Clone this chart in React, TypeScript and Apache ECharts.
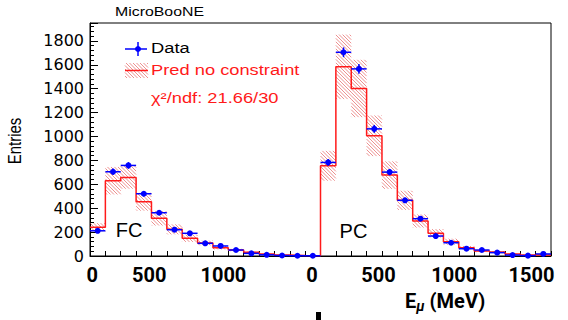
import React, { useEffect, useRef } from "react";
import * as echarts from "echarts";

// Bin index: FC bins 0..14 (0-1500 MeV, 100 MeV each), PC bins 15..29
const FC_DATA = [211, 705, 758, 521, 362, 220, 190, 106, 84, 50, 22, 10, 4, 2, 2];
const FC_DATA_ERR = [15, 27, 28, 23, 19, 15, 14, 10, 9, 7, 5, 3, 2, 1, 1];
const FC_PRED = [240, 630, 658, 454, 315, 223, 148, 109, 69, 50, 31, 17, 8, 4, 2];
const FC_PRED_ERR = [35, 115, 95, 75, 60, 42, 30, 20, 14, 10, 7, 4, 3, 2, 1];

const PC_DATA = [783, 1705, 1566, 1064, 702, 466, 312, 167, 111, 61, 50, 28, 8, 3, 17];
const PC_DATA_ERR = [28, 41, 40, 33, 26, 22, 18, 13, 11, 8, 7, 5, 3, 2, 4];
const PC_PRED = [755, 1583, 1402, 1006, 677, 466, 293, 190, 120, 69, 42, 33, 17, 8, 8];
const PC_PRED_ERR = [125, 270, 240, 170, 115, 80, 55, 35, 25, 15, 10, 8, 5, 3, 3];

const X_LABEL_TEXT = ["0", "500", "1000", "0", "500", "1000", "1500"];
const X_LABEL_POS = [0.15, 3.86, 8.68, 14.45, 18.77, 23.7, 28.73];

const Y_MAX = 1950;
const N_BINS = 30;

const HATCH_COLOR = "rgba(225,70,70,0.6)";
const RED = "#ff1a1a";
const BLUE = "#0000ff";

function hatchLines(x0: number, y0: number, x1: number, y1: number, sp: number) {
  const out: any[] = [];
  const cMin = y0 - x1;
  const cMax = y1 - x0;
  for (let c = Math.ceil(cMin / sp) * sp; c <= cMax; c += sp) {
    const lo = Math.max(x0, y0 - c);
    const hi = Math.min(x1, y1 - c);
    if (hi > lo) {
      out.push({
        type: "line",
        shape: { x1: lo, y1: lo + c, x2: hi, y2: hi + c },
        style: { stroke: HATCH_COLOR, lineWidth: 1 },
        silent: true,
      });
    }
  }
  return out;
}

export default function App() {
  const ref = useRef<HTMLDivElement>(null);
  useEffect(() => {
    if (!ref.current) return;
    const chart = echarts.init(ref.current, undefined, { renderer: "svg" });

    const predBand: number[][] = [];
    const dataPts: number[][] = [];
    FC_PRED.forEach((v, i) => predBand.push([i, v, FC_PRED_ERR[i]]));
    PC_PRED.forEach((v, i) => predBand.push([15 + i, v, PC_PRED_ERR[i]]));
    FC_DATA.forEach((v, i) => dataPts.push([i, v, FC_DATA_ERR[i]]));
    PC_DATA.forEach((v, i) => dataPts.push([15 + i, v, PC_DATA_ERR[i]]));

    const step: number[][] = [];
    FC_PRED.forEach((v, i) => step.push([i, v]));
    step.push([15, FC_PRED[FC_PRED.length - 1]]);
    PC_PRED.forEach((v, i) => step.push([15 + i, v]));
    step.push([30, PC_PRED[PC_PRED.length - 1]]);

    const textFont = "Liberation Sans, Arial, sans-serif";

    chart.setOption({
      animation: false,
      grid: {
        left: 90,
        right: 17,
        top: 23,
        bottom: 64,
        show: true,
        borderColor: "#000",
        borderWidth: 1,
        backgroundColor: "transparent",
      },
      xAxis: [
        {
          type: "value",
          min: 0,
          max: N_BINS,
          interval: 1,
          axisLine: { show: true, lineStyle: { color: "#000", width: 1 } },
          axisTick: { show: true, inside: true, length: 5, lineStyle: { color: "#000" } },
          axisLabel: { show: false },
          splitLine: { show: false },
        },
        {
          type: "value",
          min: 0,
          max: N_BINS,
          position: "bottom",
          axisLine: { show: false },
          axisTick: { show: false },
          splitLine: { show: false },
          axisLabel: {
            show: true,
            customValues: X_LABEL_POS,
            margin: 9,
            fontFamily: "Roboto, sans-serif",
            fontWeight: "bold",
            fontSize: 20,
            color: "#000",
            formatter: (v: number) => {
              let best = 0;
              let bd = Infinity;
              X_LABEL_POS.forEach((p, k) => {
                const d = Math.abs(p - v);
                if (d < bd) {
                  bd = d;
                  best = k;
                }
              });
              return X_LABEL_TEXT[best];
            },
          },
        },
      ],
      yAxis: {
        type: "value",
        min: 0,
        max: Y_MAX,
        interval: 200,
        axisLine: { show: true, lineStyle: { color: "#000", width: 1 } },
        axisTick: { show: true, inside: true, length: 8, lineStyle: { color: "#000" } },
        minorTick: { show: true, splitNumber: 5, length: 4, lineStyle: { color: "#000" } },
        splitLine: { show: false },
        axisLabel: {
          showMaxLabel: false,
          margin: 6,
          fontFamily: "DejaVu Sans, sans-serif",
          fontSize: 16,
          color: "#000",
          formatter: (v: number) => String(v),
        },
      },
      series: [
        {
          type: "custom",
          name: "band",
          coordinateSystem: "cartesian2d",
          xAxisIndex: 0,
          yAxisIndex: 0,
          data: predBand,
          encode: { x: 0, y: 1 },
          renderItem: (params: any, api: any) => {
            const i = api.value(0);
            const v = api.value(1);
            const e = api.value(2);
            const p0 = api.coord([i, v + e]);
            const p1 = api.coord([i + 1, Math.max(0, v - e)]);
            return {
              type: "group",
              children: hatchLines(p0[0], p0[1], p1[0], p1[1], 3.5),
            };
          },
          z: 1,
        },
        {
          type: "line",
          name: "pred",
          data: step,
          step: "end",
          showSymbol: false,
          symbol: "none",
          lineStyle: { color: RED, width: 1.5 },
          z: 2,
        },
        {
          type: "custom",
          name: "data",
          coordinateSystem: "cartesian2d",
          xAxisIndex: 0,
          yAxisIndex: 0,
          data: dataPts,
          encode: { x: 0, y: 1 },
          renderItem: (params: any, api: any) => {
            const i = api.value(0);
            const v = api.value(1);
            const e = api.value(2);
            const l = api.coord([i, v]);
            const r = api.coord([i + 1, v]);
            const c = api.coord([i + 0.5, v]);
            const t = api.coord([i + 0.5, v + e]);
            const b = api.coord([i + 0.5, Math.max(0, v - e)]);
            const st = { stroke: BLUE, lineWidth: 1.5 };
            return {
              type: "group",
              children: [
                { type: "line", shape: { x1: l[0], y1: l[1], x2: r[0], y2: r[1] }, style: st },
                { type: "line", shape: { x1: t[0], y1: t[1], x2: b[0], y2: b[1] }, style: st },
                { type: "circle", shape: { cx: c[0], cy: c[1], r: 3 }, style: { fill: BLUE } },
              ],
            };
          },
          z: 3,
        },
      ],
      graphic: [
        {
          type: "text",
          x: 115,
          y: 12,
          scaleX: 1.22,
          style: {
            text: "MicroBooNE",
            fontFamily: textFont,
            fontSize: 13,
            fill: "#000",
            align: "left",
            verticalAlign: "middle",
          },
        },
        {
          type: "text",
          x: 15,
          y: 141,
          rotation: Math.PI / 2,
          scaleY: 1.2,
          style: {
            text: "Entries",
            fontFamily: textFont,
            fontSize: 15,
            fill: "#000",
            align: "center",
            verticalAlign: "middle",
          },
        },
        // Legend: data marker
        { type: "line", shape: { x1: 125, y1: 49, x2: 147, y2: 49 }, style: { stroke: BLUE, lineWidth: 1.5 } },
        { type: "line", shape: { x1: 138, y1: 42, x2: 138, y2: 56 }, style: { stroke: BLUE, lineWidth: 1.5 } },
        { type: "circle", shape: { cx: 138, cy: 49, r: 3 }, style: { fill: BLUE } },
        {
          type: "text",
          x: 151,
          y: 48.5,
          scaleX: 1.22,
          style: {
            text: "Data",
            fontFamily: textFont,
            fontSize: 15,
            fill: "#000",
            align: "left",
            verticalAlign: "middle",
          },
        },
        // Legend: pred hatch box
        { type: "group", children: hatchLines(125, 63, 148, 78, 3.5) },
        { type: "line", shape: { x1: 125, y1: 70.5, x2: 148, y2: 70.5 }, style: { stroke: RED, lineWidth: 1.5 } },
        {
          type: "text",
          x: 151,
          y: 70.5,
          scaleX: 1.22,
          style: {
            text: "Pred no constraint",
            fontFamily: textFont,
            fontSize: 15,
            fill: RED,
            align: "left",
            verticalAlign: "middle",
          },
        },
        {
          type: "text",
          x: 151,
          y: 98,
          scaleX: 1.22,
          style: {
            text: "χ²/ndf: 21.66/30",
            fontFamily: textFont,
            fontSize: 15,
            fill: RED,
            align: "left",
            verticalAlign: "middle",
          },
        },
        {
          type: "text",
          x: 129,
          y: 230,
          style: {
            text: "FC",
            fontFamily: textFont,
            fontSize: 20,
            fill: "#000",
            align: "center",
            verticalAlign: "middle",
          },
        },
        {
          type: "text",
          x: 353.5,
          y: 230.5,
          style: {
            text: "PC",
            fontFamily: textFont,
            fontSize: 20,
            fill: "#000",
            align: "center",
            verticalAlign: "middle",
          },
        },
        {
          type: "text",
          x: 405,
          y: 301,
          style: {
            text: "{e|E}{m|μ}{u| (MeV)}",
            align: "left",
            verticalAlign: "middle",
            rich: {
              e: { fontFamily: "Roboto, sans-serif", fontWeight: "bold", fontSize: 20, fill: "#000" },
              m: {
                fontFamily: "Roboto, sans-serif",
                fontWeight: "bold",
                fontStyle: "italic",
                fontSize: 14,
                fill: "#000",
                padding: [10, 0, 0, 0],
              },
              u: { fontFamily: "Roboto, sans-serif", fontWeight: "bold", fontSize: 20, fill: "#000" },
            },
          },
        },
        { type: "rect", shape: { x: 316, y: 312, width: 5, height: 8 }, style: { fill: "#000" } },
      ],
    });
    return () => chart.dispose();
  }, []);
  return (
    <div
      ref={ref}
      style={{ position: "fixed", left: 0, top: 0, width: 568, height: 320, background: "#fff" }}
    />
  );
}
